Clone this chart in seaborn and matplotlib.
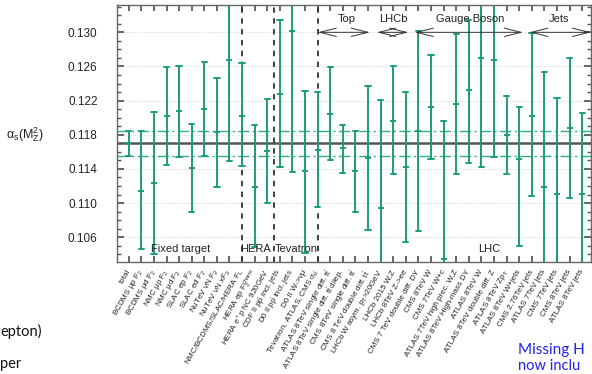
import numpy as np
import pandas as pd
import seaborn as sns
import matplotlib.pyplot as plt
from matplotlib.ticker import MultipleLocator

# alpha_s(M_Z^2) determinations per data set (central value, lower and upper end of the error bar)
labels = [
    "total", "BCDMS μp F$_2$", "BCDMS μd F$_2$", "NMC μp F$_2$", "NMC μd F$_2$",
    "SLAC ep F$_2$", "SLAC ed F$_2$", "NuTeV νN F$_2$", "NuTeV νN xF$_3$",
    "NMC/BCDMS/SLAC/HERA F$_L$", "HERA ep F$_2^{charm}$", "HERA e$^+$p NC 920GeV",
    "CDF II p$\\bar{p}$ incl. jets", "D0 II p$\\bar{p}$ incl. jets", "D0 II W->νμ",
    "Tevatron, ATLAS, CMS σ$_{t\\bar{t}}$", "ATLAS 8TeV single diff. t$\\bar{t}$",
    "ATLAS 8TeV single diff. t$\\bar{t}$ dilep.", "CMS 8TeV single diff. t$\\bar{t}$",
    "CMS 8 TeV double diff. t$\\bar{t}$", "LHCb W asym. p$_T$>20GeV", "LHCb 2015 W,Z",
    "LHCb 8TeV Z->ee", "CMS 7 TeV double diff. DY", "CMS 8TeV W", "CMS 7TeV W+c",
    "ATLAS 7TeV high prec. W,Z", "ATLAS 8TeV High-mass DY", "ATLAS 8TeV W",
    "ATLAS 8TeV double diff. Z", "ATLAS 8TeV Zp$_T$", "ATLAS 8TeV W+jets",
    "CMS 2.76TeV jets", "ATLAS 7TeV jets", "CMS 7TeV jets", "CMS 8TeV jets", "ATLAS 8TeV jets",
]
central = [0.1170, 0.1114, 0.1123, 0.1202, 0.1208, 0.1141, 0.1210, 0.1183, 0.1268,
           0.1202, 0.1119, 0.1161, 0.1228, 0.1301, 0.1137, 0.1162, 0.1204, 0.1164,
           0.1137, 0.1153, 0.1094, 0.1196, 0.1142, 0.1184, 0.1213, 0.1034, 0.1216,
           0.1233, 0.1270, 0.1267, 0.1180, 0.1152, 0.1202, 0.1119, 0.1111, 0.1188, 0.1111]
lower = [0.1155, 0.1046, 0.1040, 0.1145, 0.1154, 0.1089, 0.1155, 0.1119, 0.1149,
         0.1144, 0.1049, 0.1100, 0.1142, 0.1136, 0.1042, 0.1095, 0.1150, 0.1135,
         0.1089, 0.1069, 0.0967, 0.1134, 0.1055, 0.1067, 0.1152, 0.0872, 0.1134,
         0.1147, 0.1142, 0.1154, 0.1134, 0.1050, 0.1108, 0.0985, 0.0999, 0.1106, 0.1017]
upper = [0.1184, 0.1184, 0.1207, 0.1259, 0.1261, 0.1193, 0.1265, 0.1247, 0.1386,
         0.1264, 0.1192, 0.1222, 0.1314, 0.1466, 0.1231, 0.1230, 0.1259, 0.1192,
         0.1184, 0.1237, 0.1221, 0.1260, 0.1230, 0.1301, 0.1273, 0.1196, 0.1298,
         0.1314, 0.1398, 0.1380, 0.1225, 0.1213, 0.1299, 0.1254, 0.1223, 0.1270, 0.1205]

alpha_total = 0.1170
band_lo, band_hi = 0.1155, 0.1184

yticks = [0.106, 0.110, 0.114, 0.118, 0.122, 0.126, 0.130]

# experiment groups
sep_lines = [9, 11.5, 15]
top_groups = [("Top", 15.0, 19.15, 17.3), ("LHCb", 19.7, 22.2, 21.0),
              ("Gauge Boson", 22.7, 31.3, 27.1), ("Jets", 31.8, 36.7, 34.2)]
bottom_groups = [("Fixed target", 4.15), ("HERA", 10.05), ("Tevatron", 13.3), ("LHC", 28.6)]

green = "#1b9e77"

sns.set_theme(style="ticks")
plt.rcParams['font.family'] = ['Liberation Sans', 'DejaVu Sans']
plt.rcParams['mathtext.fontset'] = 'custom'
plt.rcParams['mathtext.rm'] = 'Liberation Sans'
plt.rcParams['mathtext.it'] = 'Liberation Sans:italic'
plt.rcParams['mathtext.default'] = 'regular'

# long form: median of (lo, c, hi) = c, full percentile interval = error bar
df = pd.DataFrame({
    'label': np.repeat(labels, 3),
    'alpha_s': np.column_stack([lower, central, upper]).ravel(),
})

fig = plt.figure(figsize=(5.92, 3.74), dpi=100)
ax = fig.add_axes([117 / 592, 1 - 262 / 374, (591 - 117) / 592, (262 - 5) / 374])

ax.grid(True, which='major', ls=':', color='#c8c8c8', lw=0.6, zorder=0)
ax.axhline(alpha_total, color='#555555', lw=1.8, zorder=1.5)
for yb in (band_lo, band_hi):
    ax.axhline(yb, color='#2fae84', lw=1.0, ls=(0, (8, 2.5, 1.5, 2.5)), zorder=1.5)
for xs in sep_lines:
    ax.axvline(xs, color='#333333', lw=1.3, ls=(0, (3, 3)), zorder=1.6)

sns.pointplot(data=df, x='label', y='alpha_s', estimator='median', errorbar=('pi', 100),
              color=green, linestyle='none', marker='_', markersize=4, markeredgewidth=1.4,
              capsize=0.42, err_kws={'linewidth': 1.4}, ax=ax)

ax.set_xlim(-0.93, 36.7)
ax.set_ylim(0.1031, 0.1332)
ax.set_xlabel('')
ax.set_ylabel('')

ax.set_xticks(range(len(labels)))
ax.set_xticklabels(labels, rotation=60, ha='right', va='center', rotation_mode='anchor',
                   fontsize=5.8, color='#222222')
ax.set_yticks(yticks)
ax.set_yticklabels([f"{v:.3f}" for v in yticks], fontsize=8.5, color='#222222')
ax.yaxis.set_minor_locator(MultipleLocator(0.001))
ax.tick_params(axis='x', direction='in', length=4, top=True, pad=6, color='#555555')
ax.tick_params(axis='y', which='major', direction='in', length=5, right=True, pad=14, color='#555555')
ax.tick_params(axis='y', which='minor', direction='in', length=3, right=True, color='#555555')
for sp in ax.spines.values():
    sp.set_color('#666666')
    sp.set_linewidth(1.0)

for name, x0, x1, xt in top_groups:
    ax.annotate('', xy=(x1, 0.1300), xytext=(x0, 0.1300),
                arrowprops=dict(arrowstyle='<->,head_length=1.0,head_width=0.25',
                                color='#333333', lw=0.7, shrinkA=0, shrinkB=0))
    ax.text(xt, 0.1316, name, ha='center', va='center', fontsize=8, color='#222222')

for name, xt in bottom_groups:
    ax.text(xt, 0.1046, name, ha='center', va='center', fontsize=8, color='#222222')

fig.text(25 / 592, 1 - 135 / 374, r'$\alpha_s(M_Z^2)$', ha='center', va='center',
         fontsize=9, color='#222222')

# fragments of the surrounding slide
fig.text(0.0, 1 - 331 / 374, 'epton)', ha='left', va='center', fontsize=10.5,
         family='Lato', color='#111111')
fig.text(0.0, 1 - 364 / 374, 'per', ha='left', va='center', fontsize=10.5,
         family='Lato', color='#111111')
fig.text(518 / 592, 1 - 350 / 374, 'Missing H', ha='left', va='center', fontsize=11,
         family='Lato', color='#2222ee')
fig.text(518 / 592, 1 - 366 / 374, 'now inclu', ha='left', va='center', fontsize=10.5,
         family='Lato', color='#2222ee')

fig.savefig('out.png', dpi=100)
